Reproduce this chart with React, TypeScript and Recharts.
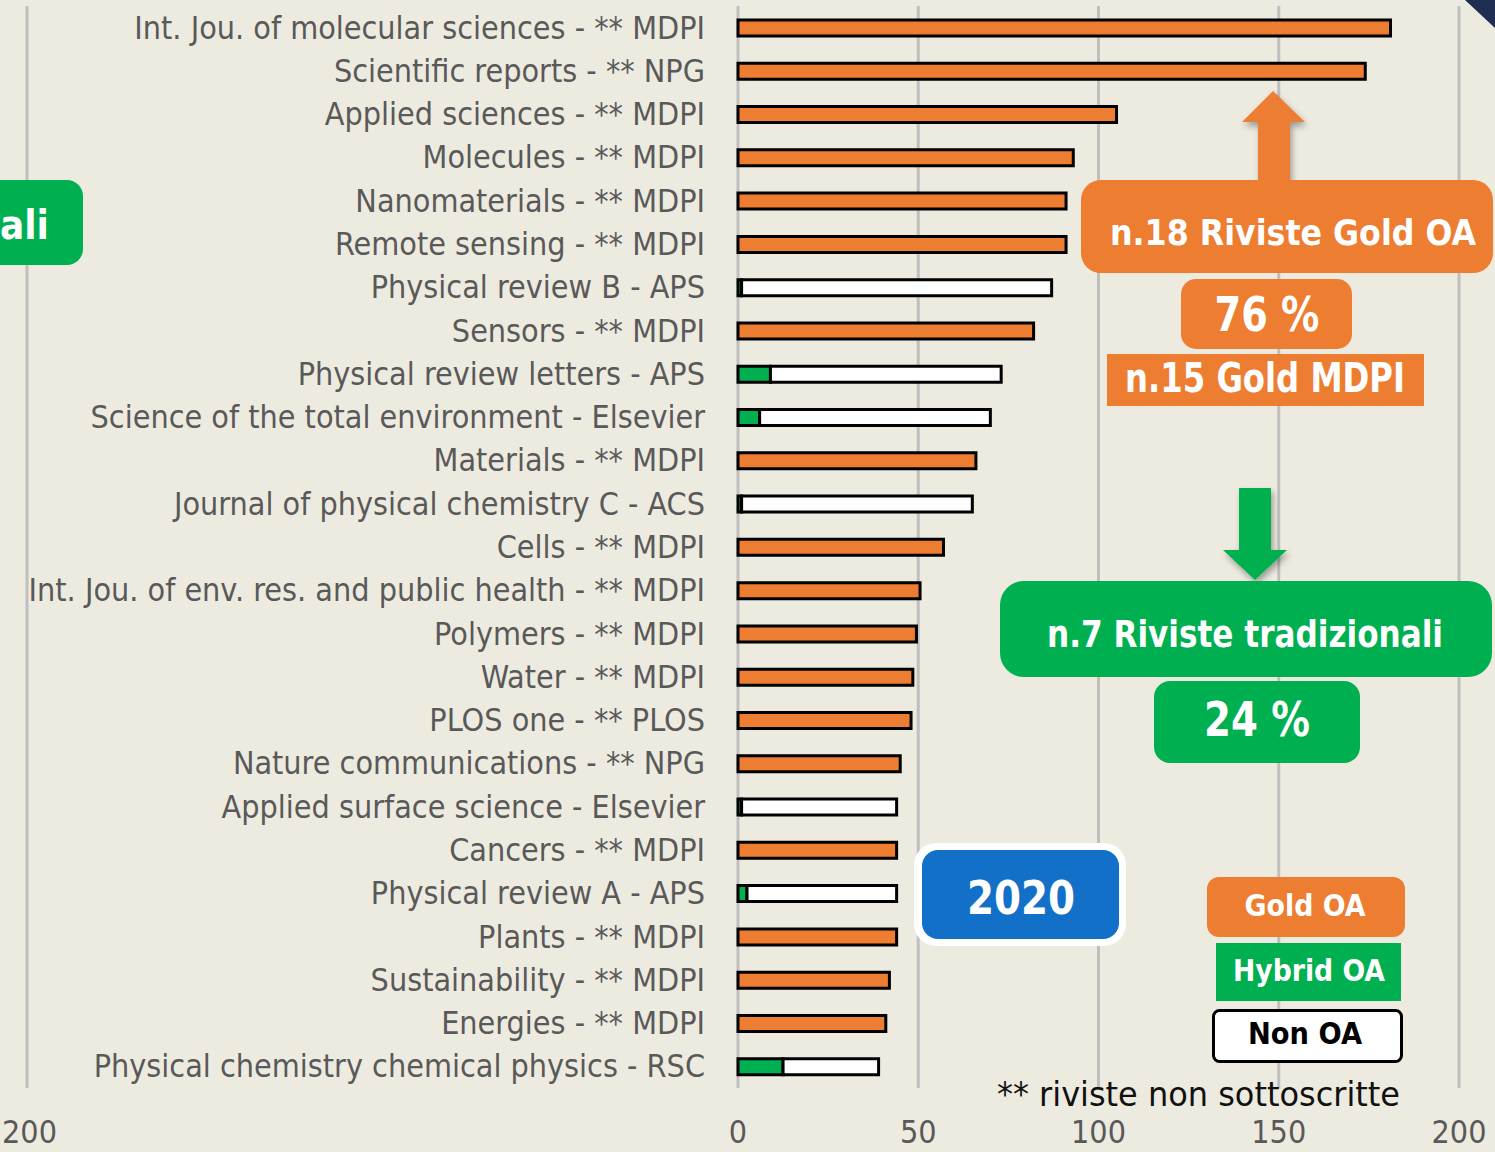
import React from 'react';
import { BarChart, Bar, XAxis, YAxis, CartesianGrid } from 'recharts';

const journals = [
  'Int. Jou. of molecular sciences - ** MDPI',
  'Scientific reports - ** NPG',
  'Applied sciences - ** MDPI',
  'Molecules - ** MDPI',
  'Nanomaterials - ** MDPI',
  'Remote sensing - ** MDPI',
  'Physical review B - APS',
  'Sensors - ** MDPI',
  'Physical review letters - APS',
  'Science of the total environment - Elsevier',
  'Materials - ** MDPI',
  'Journal of physical chemistry C - ACS',
  'Cells - ** MDPI',
  'Int. Jou. of env. res. and public health - ** MDPI',
  'Polymers - ** MDPI',
  'Water - ** MDPI',
  'PLOS one - ** PLOS',
  'Nature communications - ** NPG',
  'Applied surface science - Elsevier',
  'Cancers - ** MDPI',
  'Physical review A - APS',
  'Plants - ** MDPI',
  'Sustainability - ** MDPI',
  'Energies - ** MDPI',
  'Physical chemistry chemical physics - RSC',
];
const goldOA = [181, 174, 105, 93, 91, 91, 0, 82, 0, 0, 66, 0, 57, 50.5, 49.5, 48.5, 48, 45, 0, 44, 0, 44, 42, 41, 0];
const hybridOA = [0, 0, 0, 0, 0, 0, 1, 0, 9, 6, 0, 1, 0, 0, 0, 0, 0, 0, 1, 0, 2.5, 0, 0, 0, 12.5];
const nonOA = [0, 0, 0, 0, 0, 0, 86, 0, 64, 64, 0, 64, 0, 0, 0, 0, 0, 0, 43, 0, 41.5, 0, 0, 0, 26.5];
const xTicks = [0, 50, 100, 150, 200];

const data = journals.map((name, i) => ({
  name,
  hybrid: hybridOA[i],
  non: nonOA[i],
  gold: goldOA[i],
}));

const BG = '#EDEBE0';
const ORANGE = '#ED7D31';
const GREEN = '#00B050';
const BLUE = '#1270C8';
const LABEL_FONT = "'Liberation Sans Narrow', 'DejaVu Sans Condensed', 'Open Sans', sans-serif";
const BOLD_FONT = "'DejaVu Sans Condensed', 'Liberation Sans Narrow', 'Open Sans', sans-serif";

const YTick = (props: any) => {
  const { x, y, payload } = props;
  return (
    <text x={x - 33} y={y + 11} textAnchor="end" fill="#595959" fontSize={32} fontFamily={LABEL_FONT}>
      {payload.value}
    </text>
  );
};

const XTick = (props: any) => {
  const { x, y, payload } = props;
  return (
    <text x={x} y={y + 55} textAnchor="middle" fill="#595959" fontSize={32} fontFamily={LABEL_FONT}>
      {payload.value}
    </text>
  );
};

const Overlay = () => (
  <svg width={1495} height={1152} style={{ position: 'absolute', left: 0, top: 0, pointerEvents: 'none' }}>
    <defs>
      <filter id="sh" x="-30%" y="-30%" width="160%" height="160%">
        <feDropShadow dx="2" dy="4" stdDeviation="3" floodColor="#000" floodOpacity="0.35" />
      </filter>
    </defs>
    {/* remnant of previous chart */}
    <line x1={27} y1={6} x2={27} y2={1088} stroke="#BFBFBF" strokeWidth={3} />
    <text x={2} y={1143} fill="#595959" fontSize={32} fontFamily={LABEL_FONT}>200</text>
    <rect x={-200} y={180} width={283} height={85} rx={16} fill={GREEN} />
    <text x={0} y={239} fill="#fff" fontSize={40} fontWeight={700} fontFamily={BOLD_FONT}>ali</text>
    {/* corner triangle */}
    <polygon points="1465,0 1495,0 1495,28" fill="#1F2D50" />

    {/* orange up arrow */}
    <polygon points="1273,91 1305,122 1290,122 1290,183 1258,183 1258,122 1242,122" fill={ORANGE} filter="url(#sh)" />
    <rect x={1081} y={180} width={412} height={93} rx={20} fill={ORANGE} />
    <text x={1293} y={245} textAnchor="middle" fill="#fff" fontSize={35} fontWeight={700} fontFamily={BOLD_FONT} textLength={366} lengthAdjust="spacingAndGlyphs">n.18 Riviste Gold OA</text>

    <rect x={1181} y={279} width={171} height={70} rx={15} fill={ORANGE} />
    <text x={1267} y={331} textAnchor="middle" fill="#fff" fontSize={48} fontWeight={700} fontFamily={BOLD_FONT} textLength={105} lengthAdjust="spacingAndGlyphs">76 %</text>

    <rect x={1107} y={354} width={317} height={52} fill={ORANGE} />
    <text x={1265} y={392} textAnchor="middle" fill="#fff" fontSize={40} fontWeight={700} fontFamily={BOLD_FONT} textLength={280} lengthAdjust="spacingAndGlyphs">n.15 Gold MDPI</text>

    {/* green down arrow */}
    <polygon points="1239,488 1271,488 1271,550 1287,550 1255,580 1223,550 1239,550" fill={GREEN} filter="url(#sh)" />
    <rect x={1000} y={581} width={492} height={96} rx={24} fill={GREEN} />
    <text x={1245} y={647} textAnchor="middle" fill="#fff" fontSize={38} fontWeight={700} fontFamily={BOLD_FONT} textLength={396} lengthAdjust="spacingAndGlyphs">n.7 Riviste tradizionali</text>

    <rect x={1154} y={681} width={206} height={82} rx={16} fill={GREEN} />
    <text x={1257} y={736} textAnchor="middle" fill="#fff" fontSize={48} fontWeight={700} fontFamily={BOLD_FONT} textLength={106} lengthAdjust="spacingAndGlyphs">24 %</text>

    {/* 2020 box */}
    <rect x={914} y={843} width={212} height={103} rx={22} fill="#fff" />
    <rect x={922} y={850} width={197} height={89} rx={16} fill={BLUE} />
    <text x={1021} y={914} textAnchor="middle" fill="#fff" fontSize={46} fontWeight={700} fontFamily={BOLD_FONT} textLength={108} lengthAdjust="spacingAndGlyphs">2020</text>

    {/* legend boxes */}
    <rect x={1207} y={877} width={198} height={60} rx={12} fill={ORANGE} />
    <text x={1305} y={916} textAnchor="middle" fill="#fff" fontSize={30} fontWeight={700} fontFamily={BOLD_FONT} textLength={121} lengthAdjust="spacingAndGlyphs">Gold OA</text>
    <rect x={1216} y={943} width={185} height={58} fill={GREEN} />
    <text x={1309} y={981} textAnchor="middle" fill="#fff" fontSize={30} fontWeight={700} fontFamily={BOLD_FONT} textLength={152} lengthAdjust="spacingAndGlyphs">Hybrid OA</text>
    <rect x={1213.5} y={1010.5} width={188} height={51} rx={6} fill="#fff" stroke="#000" strokeWidth={3} />
    <text x={1305} y={1044} textAnchor="middle" fill="#000" fontSize={30} fontWeight={700} fontFamily={BOLD_FONT} textLength={114} lengthAdjust="spacingAndGlyphs">Non OA</text>

    <text x={997} y={1106} fill="#111" fontSize={33} fontFamily={LABEL_FONT} textLength={403} lengthAdjust="spacingAndGlyphs">** riviste non sottoscritte</text>
  </svg>
);

export default function App() {
  return (
    <div style={{ position: 'absolute', left: 0, top: 0, width: 1495, height: 1152, background: BG, overflow: 'hidden' }}>
      <BarChart
        width={1495}
        height={1152}
        data={data}
        layout="vertical"
        margin={{ top: 6, right: 36, bottom: 0, left: 0 }}
      >
        <CartesianGrid horizontal={false} stroke="#BFBFBF" strokeWidth={3} />
        <XAxis
          type="number"
          domain={[0, 200]}
          ticks={xTicks}
          height={64}
          axisLine={false}
          tickLine={false}
          tickSize={0}
          tickMargin={0}
          tick={<XTick />}
          interval={0}
        />
        <YAxis
          type="category"
          dataKey="name"
          width={738}
          axisLine={false}
          tickLine={false}
          tickSize={0}
          tickMargin={0}
          tick={<YTick />}
          interval={0}
        />
        <Bar dataKey="hybrid" stackId="a" fill={GREEN} stroke="#000" strokeWidth={3} barSize={16} isAnimationActive={false} />
        <Bar dataKey="non" stackId="a" fill="#fff" stroke="#000" strokeWidth={3} barSize={16} isAnimationActive={false} />
        <Bar dataKey="gold" stackId="a" fill={ORANGE} stroke="#000" strokeWidth={3} barSize={16} isAnimationActive={false} />
      </BarChart>
      <Overlay />
    </div>
  );
}
